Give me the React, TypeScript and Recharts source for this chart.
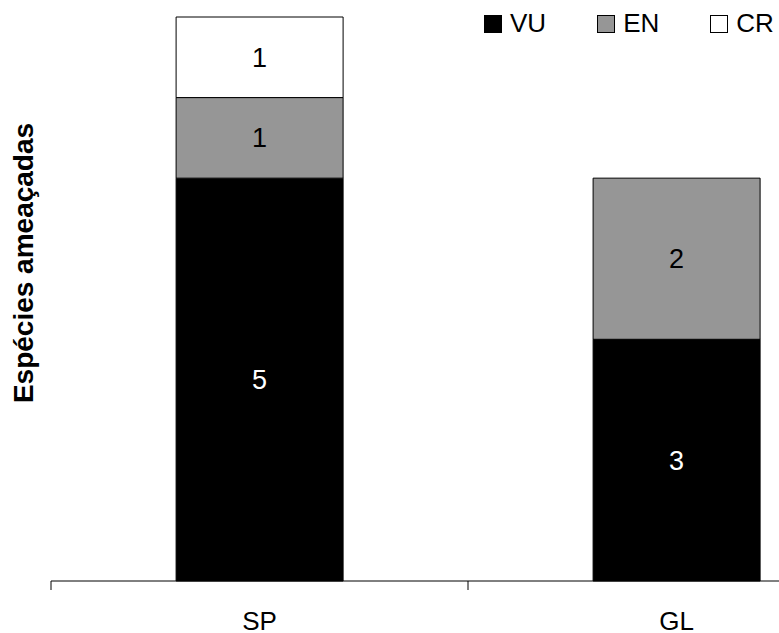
import { Bar, BarChart, LabelList, Legend, XAxis, YAxis } from 'recharts';

const sites = ['SP', 'GL'];
const vu = [5, 3];
const en = [1, 2];
const cr = [1, 0];

const seriesInfo = [
  { key: 'VU', values: vu, fill: '#000000', text: '#ffffff' },
  { key: 'EN', values: en, fill: '#969696', text: '#000000' },
  { key: 'CR', values: cr, fill: '#ffffff', text: '#000000' },
];

const data = sites.map((site, i) => ({
  site,
  VU: vu[i],
  EN: en[i],
  CR: cr[i],
}));

const FONT = 'Arial, "Liberation Sans", sans-serif';

function SiteTick(props: any) {
  const { x, y, payload } = props;
  const half = payload?.offset ?? 208.5;
  return (
    <g>
      <line x1={x - half} y1={y - 9} x2={x - half} y2={y} stroke="#000" strokeWidth={1} />
      <text x={x} y={y + 40} textAnchor="middle" fontSize={26} fontFamily={FONT} fill="#000">
        {payload.value}
      </text>
    </g>
  );
}

// legend keeps the VU, EN, CR order of the source chart
function LegendBox() {
  return (
    <div style={{ display: 'flex', gap: 51, fontFamily: FONT, fontSize: 26, color: '#000' }}>
      {seriesInfo.map((s) => (
        <div key={s.key} style={{ display: 'flex', alignItems: 'center', gap: 8 }}>
          <span
            style={{
              display: 'inline-block',
              width: 16,
              height: 16,
              background: s.fill,
              border: '1px solid #000',
            }}
          />
          <span>{s.key}</span>
        </div>
      ))}
    </div>
  );
}

export default function App() {
  return (
    <div
      style={{
        position: 'absolute',
        left: 0,
        top: 0,
        width: 779,
        height: 633,
        overflow: 'hidden',
        background: '#fff',
      }}
    >
      <BarChart
        width={885}
        height={633}
        data={data}
        margin={{ top: 17, right: 0, left: 0, bottom: 12 }}
        barCategoryGap="30%"
      >
        <XAxis
          dataKey="site"
          height={40}
          axisLine={{ stroke: '#000', strokeWidth: 1 }}
          tickLine={false}
          tickSize={9}
          tickMargin={0}
          tick={<SiteTick />}
          interval={0}
        />
        <YAxis
          width={51}
          domain={[0, 7]}
          ticks={[0, 7]}
          axisLine={false}
          tickLine={false}
          tick={false}
          label={{
            content: () => (
              <text
                transform="translate(33,263) rotate(-90)"
                textAnchor="middle"
                fontSize={28}
                fontWeight="bold"
                fontFamily={FONT}
                fill="#000"
              >
                Espécies ameaçadas
              </text>
            ),
          }}
        />
        <Legend
          layout="vertical"
          align="center"
          verticalAlign="middle"
          content={<LegendBox />}
          wrapperStyle={{ position: 'absolute', top: 8, left: 484, width: 'auto' }}
        />
        {seriesInfo.map((s) => (
          <Bar
            key={s.key}
            dataKey={s.key}
            stackId="a"
            fill={s.fill}
            stroke="#000"
            strokeWidth={1}
            isAnimationActive={false}
          >
            <LabelList
              dataKey={s.key}
              position="center"
              fill={s.text}
              fontSize={27}
              fontFamily={FONT}
              formatter={(v: any) => (v ? v : '')}
            />
          </Bar>
        ))}
      </BarChart>
    </div>
  );
}
